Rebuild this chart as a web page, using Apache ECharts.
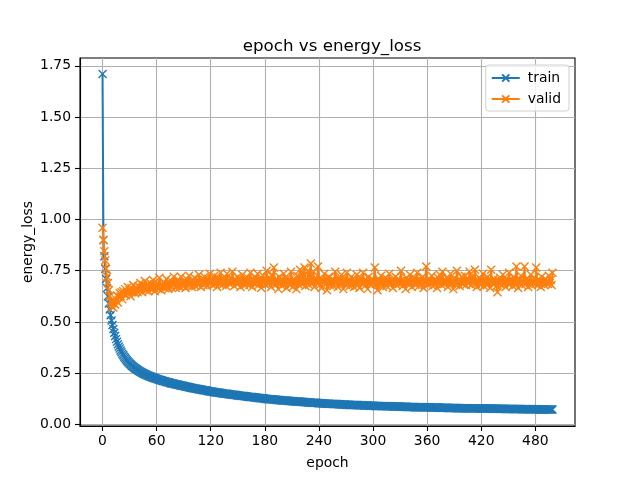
<!DOCTYPE html>
<html>
<head>
<meta charset="utf-8">
<script src="https://cdn.jsdelivr.net/npm/echarts@6/dist/echarts.min.js"></script>
<style>html,body{margin:0;padding:0;background:#fff}#c{width:640px;height:480px}</style>
</head>
<body>
<div id="c"></div>
<script>
const xTicks = [0, 60, 120, 180, 240, 300, 360, 420, 480];
const yTicks = [0, 0.25, 0.5, 0.75, 1.0, 1.25, 1.5, 1.75];

const train = [
1.710,0.900,0.820,0.760,0.710,0.665,0.625,0.590,0.560,0.532,0.507,0.485,0.465,0.447,0.431,0.416,0.403,0.391,0.380,0.370,
0.361,0.352,0.344,0.337,0.330,0.324,0.318,0.312,0.307,0.302,0.297,0.293,0.289,0.285,0.281,0.277,0.274,0.271,0.268,0.265,
0.262,0.259,0.257,0.254,0.252,0.249,0.247,0.245,0.243,0.241,0.239,0.237,0.235,0.233,0.232,0.230,0.228,0.227,0.225,0.224,
0.222,0.221,0.219,0.218,0.216,0.215,0.214,0.212,0.211,0.210,0.208,0.207,0.206,0.205,0.204,0.202,0.201,0.200,0.199,0.198,
0.197,0.196,0.195,0.194,0.193,0.192,0.191,0.190,0.189,0.188,0.187,0.186,0.185,0.184,0.183,0.182,0.181,0.180,0.179,0.178,
0.177,0.176,0.175,0.175,0.174,0.173,0.172,0.171,0.170,0.170,0.169,0.168,0.167,0.166,0.166,0.165,0.164,0.163,0.162,0.161,
0.160,0.160,0.159,0.158,0.158,0.157,0.156,0.156,0.155,0.154,0.154,0.153,0.152,0.152,0.151,0.150,0.150,0.149,0.149,0.148,
0.147,0.147,0.146,0.146,0.145,0.144,0.144,0.143,0.143,0.142,0.141,0.141,0.140,0.140,0.139,0.139,0.138,0.138,0.137,0.137,
0.136,0.135,0.135,0.134,0.134,0.133,0.133,0.132,0.132,0.131,0.131,0.130,0.130,0.129,0.129,0.128,0.128,0.127,0.127,0.126,
0.125,0.125,0.124,0.124,0.123,0.123,0.123,0.122,0.122,0.121,0.121,0.121,0.120,0.120,0.119,0.119,0.119,0.118,0.118,0.117,
0.117,0.117,0.116,0.116,0.116,0.115,0.115,0.114,0.114,0.114,0.113,0.113,0.113,0.112,0.112,0.112,0.111,0.111,0.111,0.110,
0.110,0.110,0.109,0.109,0.109,0.108,0.108,0.108,0.107,0.107,0.107,0.106,0.106,0.106,0.106,0.105,0.105,0.105,0.104,0.104,
0.103,0.103,0.103,0.103,0.102,0.102,0.102,0.102,0.101,0.101,0.101,0.101,0.100,0.100,0.100,0.100,0.099,0.099,0.099,0.099,
0.099,0.098,0.098,0.098,0.098,0.097,0.097,0.097,0.097,0.097,0.096,0.096,0.096,0.096,0.095,0.095,0.095,0.095,0.095,0.094,
0.094,0.094,0.094,0.094,0.093,0.093,0.093,0.093,0.093,0.093,0.092,0.092,0.092,0.092,0.092,0.092,0.091,0.091,0.091,0.091,
0.091,0.091,0.090,0.090,0.090,0.090,0.090,0.090,0.089,0.089,0.089,0.089,0.089,0.089,0.089,0.088,0.088,0.088,0.088,0.088,
0.088,0.088,0.087,0.087,0.087,0.087,0.087,0.087,0.087,0.087,0.087,0.086,0.086,0.086,0.086,0.086,0.086,0.086,0.085,0.085,
0.085,0.085,0.085,0.085,0.085,0.085,0.084,0.084,0.084,0.084,0.084,0.084,0.084,0.084,0.084,0.083,0.083,0.083,0.083,0.083,
0.083,0.083,0.083,0.083,0.082,0.082,0.082,0.082,0.082,0.082,0.082,0.082,0.082,0.081,0.081,0.081,0.081,0.081,0.081,0.081,
0.081,0.081,0.081,0.080,0.080,0.080,0.080,0.080,0.080,0.080,0.080,0.080,0.080,0.080,0.079,0.079,0.079,0.079,0.079,0.079,
0.079,0.079,0.079,0.079,0.079,0.079,0.078,0.078,0.078,0.078,0.078,0.078,0.078,0.078,0.078,0.078,0.078,0.078,0.078,0.077,
0.077,0.077,0.077,0.077,0.077,0.077,0.077,0.077,0.077,0.077,0.077,0.077,0.076,0.076,0.076,0.076,0.076,0.076,0.076,0.076,
0.076,0.076,0.076,0.076,0.076,0.076,0.076,0.075,0.075,0.075,0.075,0.075,0.075,0.075,0.075,0.075,0.075,0.075,0.075,0.075,
0.075,0.075,0.075,0.075,0.075,0.074,0.074,0.074,0.074,0.074,0.074,0.074,0.074,0.074,0.074,0.074,0.074,0.074,0.074,0.074,
0.074,0.074,0.074,0.074,0.074,0.073,0.073,0.073,0.073,0.073,0.073,0.073,0.073,0.073,0.073,0.073,0.073,0.073,0.073,0.073
];

const valid = [
0.960,0.900,0.845,0.800,0.760,0.720,0.690,0.655,0.625,0.600,0.575,0.590,0.570,0.605,0.585,0.610,0.630,0.595,0.620,0.640,
0.625,0.645,0.610,0.650,0.635,0.660,0.630,0.645,0.670,0.640,0.655,0.625,0.665,0.645,0.680,0.650,0.640,0.670,0.655,0.645,
0.675,0.655,0.690,0.660,0.645,0.680,0.665,0.700,0.655,0.670,0.685,0.650,0.665,0.690,0.660,0.675,0.705,0.665,0.650,0.680,
0.670,0.690,0.660,0.715,0.675,0.655,0.685,0.670,0.695,0.665,0.680,0.710,0.670,0.660,0.690,0.675,0.700,0.665,0.685,0.720,
0.680,0.665,0.695,0.675,0.705,0.690,0.670,0.720,0.685,0.675,0.700,0.680,0.665,0.710,0.690,0.675,0.725,0.685,0.695,0.670,
0.700,0.685,0.715,0.675,0.690,0.705,0.680,0.730,0.690,0.670,0.705,0.695,0.680,0.720,0.690,0.700,0.675,0.710,0.695,0.735,
0.690,0.705,0.680,0.700,0.725,0.685,0.695,0.670,0.715,0.700,0.685,0.740,0.695,0.680,0.710,0.690,0.705,0.675,0.735,0.695,
0.700,0.685,0.715,0.690,0.745,0.695,0.675,0.710,0.700,0.685,0.720,0.690,0.705,0.670,0.700,0.730,0.690,0.680,0.710,0.695,
0.685,0.715,0.700,0.680,0.740,0.695,0.670,0.705,0.690,0.720,0.685,0.700,0.735,0.680,0.695,0.710,0.665,0.700,0.725,0.690,
0.705,0.680,0.750,0.695,0.685,0.715,0.700,0.670,0.730,0.690,0.765,0.700,0.680,0.710,0.695,0.660,0.720,0.690,0.705,0.675,
0.700,0.735,0.685,0.695,0.665,0.715,0.690,0.705,0.680,0.745,0.695,0.670,0.710,0.690,0.700,0.660,0.725,0.695,0.680,0.755,
0.700,0.685,0.740,0.690,0.765,0.675,0.710,0.695,0.750,0.680,0.720,0.785,0.700,0.690,0.745,0.670,0.715,0.700,0.690,0.770,
0.695,0.680,0.715,0.665,0.700,0.690,0.735,0.685,0.705,0.655,0.695,0.720,0.680,0.700,0.690,0.710,0.675,0.700,0.745,0.685,
0.695,0.670,0.715,0.700,0.685,0.730,0.690,0.660,0.705,0.695,0.680,0.740,0.690,0.705,0.675,0.700,0.720,0.685,0.695,0.670,
0.705,0.690,0.730,0.680,0.700,0.665,0.715,0.695,0.685,0.740,0.690,0.675,0.705,0.695,0.660,0.720,0.690,0.700,0.680,0.710,
0.690,0.700,0.765,0.685,0.695,0.655,0.710,0.690,0.680,0.725,0.695,0.670,0.705,0.690,0.715,0.675,0.700,0.690,0.735,0.680,
0.695,0.705,0.665,0.700,0.690,0.720,0.680,0.695,0.710,0.685,0.700,0.750,0.690,0.675,0.705,0.695,0.660,0.715,0.690,0.700,
0.685,0.730,0.695,0.670,0.705,0.690,0.715,0.680,0.700,0.740,0.690,0.675,0.705,0.695,0.685,0.720,0.665,0.700,0.690,0.770,
0.695,0.680,0.710,0.690,0.700,0.725,0.675,0.695,0.705,0.685,0.700,0.665,0.715,0.690,0.730,0.695,0.680,0.745,0.700,0.685,
0.700,0.690,0.715,0.670,0.705,0.690,0.735,0.685,0.700,0.660,0.710,0.695,0.680,0.750,0.690,0.705,0.675,0.700,0.720,0.690,
0.685,0.700,0.725,0.680,0.695,0.710,0.690,0.745,0.700,0.680,0.720,0.690,0.700,0.755,0.685,0.670,0.705,0.695,0.715,0.680,
0.700,0.690,0.735,0.675,0.705,0.695,0.680,0.720,0.690,0.700,0.665,0.755,0.695,0.685,0.710,0.690,0.700,0.675,0.645,0.705,
0.690,0.715,0.680,0.700,0.730,0.685,0.695,0.670,0.710,0.690,0.700,0.740,0.685,0.695,0.705,0.675,0.720,0.690,0.680,0.770,
0.700,0.665,0.705,0.690,0.725,0.680,0.700,0.690,0.770,0.685,0.710,0.695,0.670,0.705,0.690,0.730,0.680,0.700,0.690,0.715,
0.685,0.765,0.695,0.680,0.705,0.690,0.670,0.720,0.695,0.700,0.680,0.710,0.690,0.700,0.685,0.725,0.690,0.705,0.680,0.740
];

const epochs = train.map((_, i) => i);
const trainData = epochs.map((e, i) => [e, train[i]]);
const validData = epochs.map((e, i) => [e, valid[i]]);

const XMARK = 'path://M0,0L10,10M10,0L0,10';
const FONT = 'DejaVu Sans';

const chart = echarts.init(document.getElementById('c'), null, {renderer: 'canvas'});
chart.setOption({
  animation: false,
  backgroundColor: '#fff',
  textStyle: {fontFamily: FONT},
  title: {
    text: 'epoch vs energy_loss',
    left: 327, top: 33, textAlign: 'center',
    textStyle: {fontFamily: FONT, fontSize: 16.7, fontWeight: 'normal', color: '#000'}
  },
  grid: {left: 80, right: 65, top: 58, bottom: 54, show: true, borderColor: '#000', borderWidth: 1.1, backgroundColor: 'transparent'},
  legend: {
    orient: 'vertical', right: 71, top: 65,
    itemWidth: 28, itemHeight: 9, itemGap: 7,
    padding: [6, 8, 5, 5],
    backgroundColor: 'rgba(255,255,255,0.8)', borderColor: '#d0d0d0', borderWidth: 1, borderRadius: 3,
    textStyle: {fontFamily: FONT, fontSize: 13.9, color: '#000', padding: [0, 0, 0, 3]},
    data: ['train', 'valid']
  },
  xAxis: {
    type: 'value', min: -25, max: 524,
    name: 'epoch', nameLocation: 'middle', nameGap: 30, nameMoveOverlap: false,
    nameTextStyle: {fontFamily: FONT, fontSize: 13.9, color: '#000'},
    axisLine: {show: true, onZero: false, lineStyle: {color: '#000', width: 1.1}},
    axisTick: {show: true, length: 5, lineStyle: {color: '#000', width: 1.1}, customValues: xTicks},
    axisLabel: {fontFamily: FONT, fontSize: 13.9, color: '#000', margin: 8, customValues: xTicks},
    splitLine: {show: true, lineStyle: {color: '#b0b0b0', width: 1.1}}
  },
  yAxis: {
    type: 'value', min: -0.008, max: 1.788,
    name: 'energy_loss', nameLocation: 'middle', nameGap: 45, nameMoveOverlap: false,
    nameTextStyle: {fontFamily: FONT, fontSize: 13.9, color: '#000'},
    axisLine: {show: true, onZero: false, lineStyle: {color: '#000', width: 1.1}},
    axisTick: {show: true, length: 5, lineStyle: {color: '#000', width: 1.1}, customValues: yTicks},
    axisLabel: {fontFamily: FONT, fontSize: 13.9, color: '#000', margin: 9, customValues: yTicks,
      formatter: v => v.toFixed(2)},
    splitLine: {show: true, lineStyle: {color: '#b0b0b0', width: 1.1}}
  },
  series: [
    {
      name: 'train', type: 'line', data: trainData, z: 2,
      symbol: XMARK, symbolSize: 8, showSymbol: true, showAllSymbol: true,
      lineStyle: {color: '#1f77b4', width: 2},
      itemStyle: {color: '#1f77b4', borderColor: '#1f77b4', borderWidth: 1.4},
      emphasis: {disabled: true}
    },
    {
      name: 'valid', type: 'line', data: validData, z: 3,
      symbol: XMARK, symbolSize: 8, showSymbol: true, showAllSymbol: true,
      lineStyle: {color: '#ff7f0e', width: 2},
      itemStyle: {color: '#ff7f0e', borderColor: '#ff7f0e', borderWidth: 1.4},
      emphasis: {disabled: true}
    }
  ]
});
</script>
</body>
</html>
